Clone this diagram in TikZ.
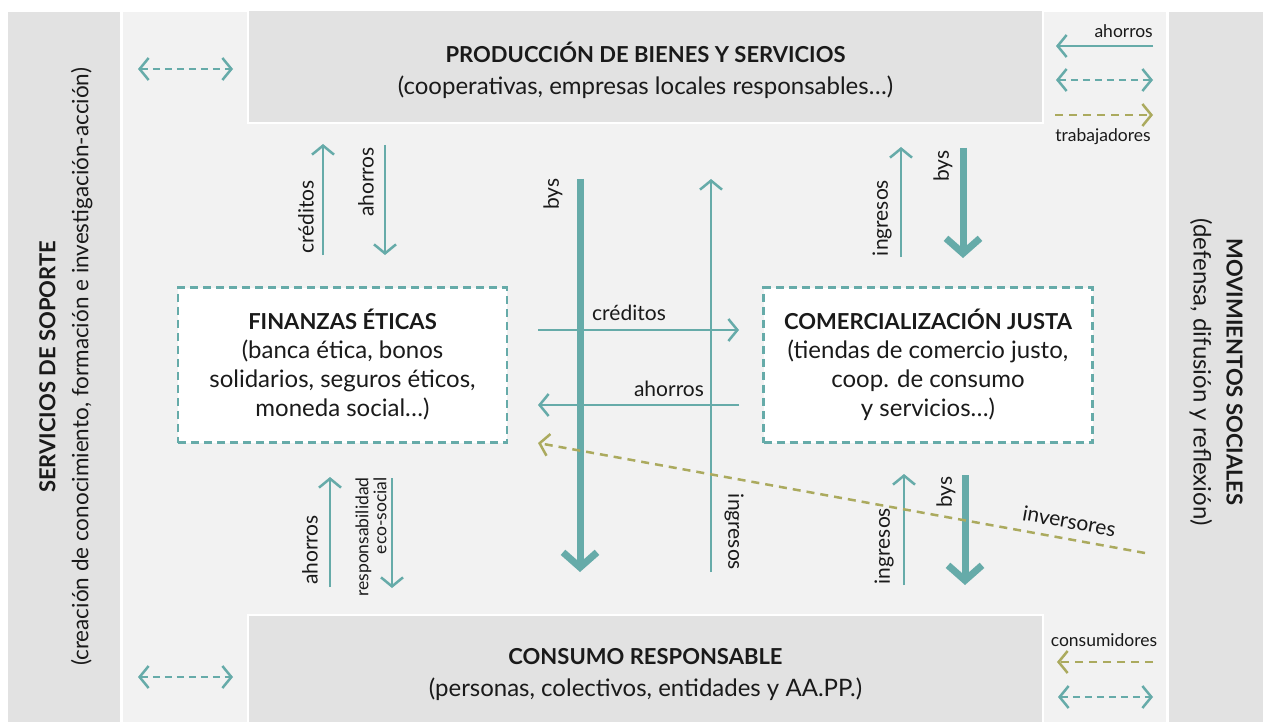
\documentclass[tikz,border=0pt]{standalone}
\usepackage{fontspec}
\setmainfont{Lato}
\usetikzlibrary{arrows.meta, positioning, calc}
\definecolor{tealc}{HTML}{66ABA9}
\definecolor{olivec}{HTML}{ABAA5E}
\definecolor{bandgray}{HTML}{E2E2E2}
\definecolor{panelgray}{HTML}{F2F2F2}
\definecolor{inkc}{HTML}{1A1A1A}
\newcommand{\boxtitle}[1]{{\fontsize{22}{29}\selectfont\bfseries #1}}

\tikzset{
  boxtext/.style={text=inkc, font=\fontsize{24}{29}\selectfont, align=center},
  sectortext/.style={boxtext, font=\fontsize{24}{32}\selectfont},
  bandtext/.style={text=inkc, font=\fontsize{22.5}{33}\selectfont, align=center},
  sectorbox/.style={fill=bandgray, draw=white, line width=2pt},
  dashbox/.style={fill=white, draw=tealc, line width=2.5pt, dash pattern=on 8pt off 5pt,
    minimum width=329pt, minimum height=155pt, boxtext},
  lbl/.style={text=inkc, font=\fontsize{21}{23}\selectfont, inner sep=0pt},
  smalllbl/.style={text=inkc, font=\fontsize{17.5}{18}\selectfont, inner sep=0pt},
  flow/.style={draw=tealc, line width=2.5pt, -{Straight Barb[length=9pt,width=22pt]}},
  bigflow/.style={draw=tealc, line width=7pt, -{Straight Barb[length=15pt,width=34pt]}},
  tealdash/.style={draw=tealc, line width=2.5pt, dash pattern=on 7pt off 5pt,
    {Straight Barb[length=9pt,width=22pt]}-{Straight Barb[length=9pt,width=22pt]}},
  olivedash/.style={draw=olivec, line width=2.5pt, dash pattern=on 8pt off 6pt}
}

\begin{document}
\begin{tikzpicture}[x=1pt, y=-1pt]
        \useasboundingbox (0,0) rectangle (1263,722);
        \fill[white] (0,0) rectangle (1263,722);

        % bands and sectors
        \fill[bandgray] (8,12) rectangle (120,722);
        \fill[panelgray] (123,12) rectangle (1166,722);
        \fill[bandgray] (1169,12) rectangle (1263,722);
        \draw[sectorbox] (248,10) rectangle (1043,123);
        \draw[sectorbox] (248,615) rectangle (1043,724);

        \node[bandtext, rotate=90] (soporte) at (66,367)
          {\boxtitle{SERVICIOS DE SOPORTE}\\(creación de conocimiento, formación e investigación-acción)};
        \node[boxtext, rotate=-90, font=\fontsize{24}{33}\selectfont] (movimientos) at (1216,372)
          {\boxtitle{MOVIMIENTOS SOCIALES}\\(defensa, difusión y reflexión)};

        \node[sectortext] (produccion) at (645.5,70)
          {\boxtitle{PRODUCCIÓN DE BIENES Y SERVICIOS}\\(cooperativas, empresas locales responsables…)};
        \node[sectortext] (consumo) at (645.5,675)
          {\boxtitle{CONSUMO RESPONSABLE}\\(personas, colectivos, entidades y AA.PP.)};

        \node[dashbox] (finanzas) at (342.5,365)
          {\boxtitle{FINANZAS ÉTICAS}\\(banca ética, bonos\\solidarios, seguros éticos,\\moneda social…)};
        \node[dashbox] (comercio) at (928,365)
          {\boxtitle{COMERCIALIZACIÓN JUSTA}\\(tiendas de comercio justo,\\coop. de consumo\\y servicios…)};

        % arrow ends
        \coordinate (cred1a) at (323,255);  \coordinate (cred1b) at (323,144);
        \coordinate (ahor1a) at (385,145);  \coordinate (ahor1b) at (385,255);
        \coordinate (ingr1a) at (901,257);  \coordinate (ingr1b) at (901,147);
        \coordinate (bys1a) at (963,148);   \coordinate (bys1b) at (963,258);
        \coordinate (ahor2a) at (330,587);  \coordinate (ahor2b) at (330,477);
        \coordinate (resp2a) at (392,478);  \coordinate (resp2b) at (392,588);
        \coordinate (ingr2a) at (904,585);  \coordinate (ingr2b) at (904,474);
        \coordinate (bys2a) at (965,475);   \coordinate (bys2b) at (965,585);
        \coordinate (bysca) at (580,179);   \coordinate (byscb) at (580,572);
        \coordinate (ingrca) at (711,572);  \coordinate (ingrcb) at (711,179);
        \coordinate (credca) at (538,330);  \coordinate (credcb) at (739,330);
        \coordinate (ahorca) at (739,405);  \coordinate (ahorcb) at (538,405);
        \coordinate (inva) at (1145,553);   \coordinate (invb) at (538,443);

        % center flows
        \draw[bigflow] (bysca) -- (byscb);
        \draw[flow] (ingrca) -- (ingrcb);
        \draw[flow] (credca) -- (credcb);
        \draw[flow] (ahorca) -- (ahorcb);
        \node[lbl, rotate=90] (bysc) at (553,194) {bys};
        \node[lbl, rotate=-90] (ingrc) at (734,532) {ingresos};
        \node[lbl] (credc) at (629,313) {créditos};
        \node[lbl] (ahorc) at (669,389) {ahorros};

        % upper flows
        \draw[flow] (cred1a) -- (cred1b);
        \draw[flow] (ahor1a) -- (ahor1b);
        \draw[flow] (ingr1a) -- (ingr1b);
        \draw[bigflow] (bys1a) -- (bys1b);
        \node[lbl, rotate=90] (cred1) at (306,217) {créditos};
        \node[lbl, rotate=90] (ahor1) at (366,182) {ahorros};
        \node[lbl, rotate=90] (ingr1) at (882,218) {ingresos};
        \node[lbl, rotate=90] (bys1) at (943,166) {bys};

        % lower flows
        \draw[flow] (ahor2a) -- (ahor2b);
        \draw[flow] (resp2a) -- (resp2b);
        \draw[flow] (ingr2a) -- (ingr2b);
        \draw[bigflow] (bys2a) -- (bys2b);
        \node[lbl, rotate=90] (ahor2) at (310,550) {ahorros};
        \node[smalllbl, rotate=90, align=right] (resp2) at (371,537) {responsabilidad\\eco-social};
        \node[lbl, rotate=90] (ingr2) at (884,546) {ingresos};
        \node[lbl, rotate=90] (bys2) at (946,492) {bys};

        \draw[olivedash, -{Straight Barb[length=9pt,width=22pt]}] (inva) -- (invb)
          node[lbl, pos=0.13, sloped, above=9pt] (inv) {inversores};

        % side exchanges
        \coordinate (tl1) at (138,69);    \coordinate (tl2) at (233,69);
        \coordinate (bl1) at (138,677);   \coordinate (bl2) at (233,677);
        \draw[tealdash] (tl1) -- (tl2);
        \draw[tealdash] (bl1) -- (bl2);

        \coordinate (tr1) at (1153,46);   \coordinate (tr2) at (1056,46);
        \coordinate (tr3) at (1056,80);   \coordinate (tr4) at (1153,80);
        \coordinate (tr5) at (1055,115);  \coordinate (tr6) at (1153,115);
        \draw[flow] (tr1) -- (tr2);
        \draw[tealdash] (tr3) -- (tr4);
        \draw[olivedash, -{Straight Barb[length=9pt,width=22pt]}] (tr5) -- (tr6);
        \node[smalllbl, anchor=south east] (ahorl) at (1153,38) {ahorros};
        \node[smalllbl] (trab) at (1103,137) {trabajadores};

        \coordinate (br1) at (1153,662);  \coordinate (br2) at (1057,662);
        \coordinate (br3) at (1058,697);  \coordinate (br4) at (1153,697);
        \draw[olivedash, -{Straight Barb[length=9pt,width=22pt]}] (br1) -- (br2);
        \draw[tealdash] (br3) -- (br4);
        \node[smalllbl] (cons) at (1104,640) {consumidores};

      \end{tikzpicture}
\end{document}
